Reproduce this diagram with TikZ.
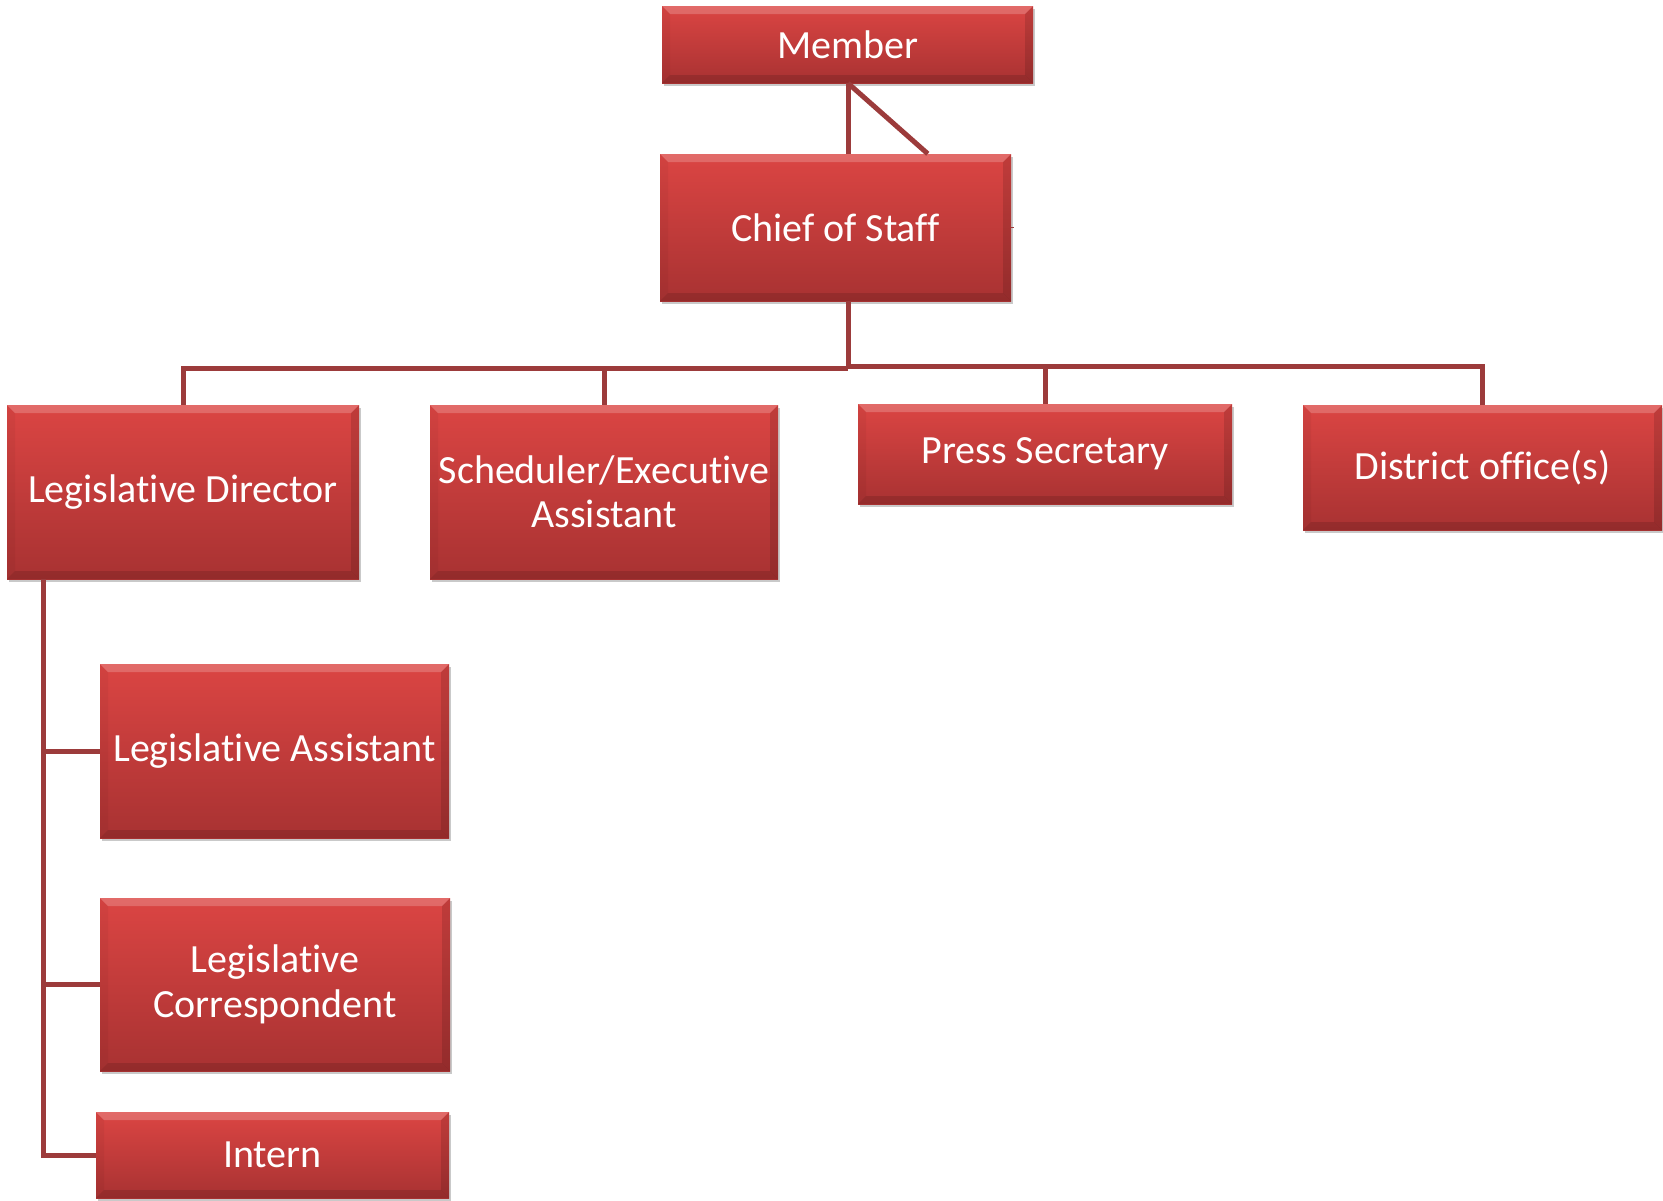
\documentclass[tikz,border=0pt]{standalone}
\usepackage{fontspec}
\setmainfont[RawFeature=-liga]{Carlito}
\usetikzlibrary{shadows}
\definecolor{boxtop}{HTML}{DB4543}
\definecolor{boxbot}{HTML}{A83232}
\definecolor{linec}{HTML}{9C3B3B}
\tikzset{
  orgbox/.style={rectangle, inner sep=0pt, top color=boxtop, bottom color=boxbot,
    text=white, align=center, font=\fontsize{40}{44.5}\selectfont,
    drop shadow={shadow xshift=2pt, shadow yshift=-3pt, opacity=0.3, fill=black!70},
    path picture={
      \coordinate (nw) at (path picture bounding box.north west);
      \coordinate (ne) at (path picture bounding box.north east);
      \coordinate (sw) at (path picture bounding box.south west);
      \coordinate (se) at (path picture bounding box.south east);
      \fill[white, opacity=0.2] (nw) -- (ne) -- ([shift={(-8pt,-8pt)}]ne) -- ([shift={(8pt,-8pt)}]nw) -- cycle;
      \fill[black, opacity=0.12] (sw) -- (se) -- ([shift={(-8pt,8pt)}]se) -- ([shift={(8pt,8pt)}]sw) -- cycle;
      \fill[black, opacity=0.12] (ne) -- (se) -- ([shift={(-8pt,8pt)}]se) -- ([shift={(-8pt,-8pt)}]ne) -- cycle;
      \fill[black, opacity=0.04] (nw) -- (sw) -- ([shift={(8pt,8pt)}]sw) -- ([shift={(8pt,-8pt)}]nw) -- cycle;
    }},
  link/.style={draw=linec, line width=5pt}
}
\begin{document}
\begin{tikzpicture}[x=1pt, y=-1pt]
  \useasboundingbox (0,0) rectangle (1663,1200);

  % boxes
  \node[orgbox, minimum width=371pt, minimum height=77pt]  (member)   at (847.5,44.5)  {Member};
  \node[orgbox, minimum width=351pt, minimum height=147pt] (chief)    at (835.5,227.5) {Chief of Staff};
  \node[orgbox, minimum width=352pt, minimum height=174pt] (legdir)   at (183,492)     {Legislative Director};
  \node[orgbox, minimum width=348pt, minimum height=174pt] (sched)    at (604,492)     {Scheduler/Executive\\Assistant};
  \node[orgbox, minimum width=374pt, minimum height=100pt] (press)    at (1045,454)    {Press Secretary};
  \node[orgbox, minimum width=359pt, minimum height=125pt] (district) at (1482.5,467.5) {District office(s)};
  \node[orgbox, minimum width=349pt, minimum height=174pt] (legasst)  at (274.5,751)   {Legislative Assistant};
  \node[orgbox, minimum width=350pt, minimum height=173pt] (legcorr)  at (275,984.5)   {Legislative\\Correspondent};
  \node[orgbox, minimum width=353pt, minimum height=86pt]  (intern)   at (272.5,1155)  {Intern};

  % junction points
  \coordinate (mfoot) at ([xshift=0.5pt]member.south);
  \coordinate (bus)   at (848,367.5);
  \coordinate (trunk) at (43,1155);

  % member to chief of staff
  \draw[link] (mfoot) -- (mfoot |- chief.north);
  \draw[link] (mfoot) -- ([xshift=268pt]chief.north west);
  \draw[linec, line width=1.5pt] (chief.east) -- ++(3pt,0);

  % chief of staff to the bus and its four reports
  \draw[link] (chief.south -| bus) -- (bus);
  \draw[link] (legdir.north) -- (legdir.north |- 0,368.5) -- (bus |- 0,368.5);
  \draw[link] (sched.north) -- (sched.north |- 0,368.5);
  \draw[link] (bus |- 0,366.5) -- (district.north |- 0,366.5) -- (district.north);
  \draw[link] (press.north) -- (press.north |- 0,366.5);

  % legislative director's staff
  \draw[link] (legdir.south -| trunk) -- (trunk) -- (intern.west);
  \draw[link] (trunk |- legasst.west) -- (legasst.west);
  \draw[link] (trunk |- legcorr.west) -- (legcorr.west);
\end{tikzpicture}
\end{document}
